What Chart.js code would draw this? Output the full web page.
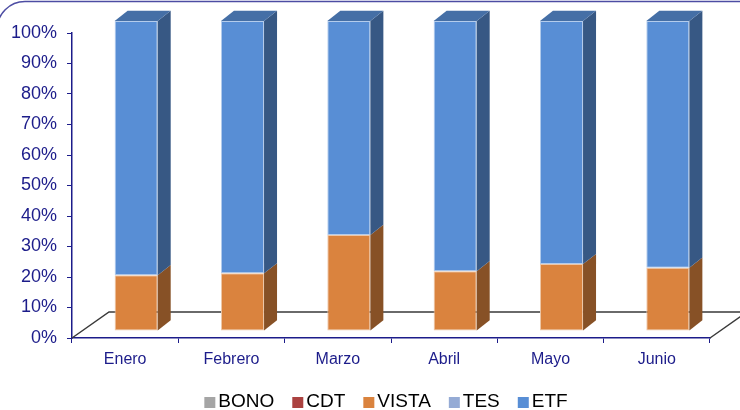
<!DOCTYPE html>
<html>
<head>
<meta charset="utf-8">
<script src="https://cdn.jsdelivr.net/npm/chart.js@4/dist/chart.umd.min.js"></script>
<style>
  html, body { margin: 0; padding: 0; background: #fff; }
  #wrap { width: 740px; height: 410px; position: relative; }
</style>
</head>
<body>
<div id="wrap"><canvas id="chart"></canvas></div>
<script>
// Chart data (percent of portfolio per month)
const months = ["Enero", "Febrero", "Marzo", "Abril", "Mayo", "Junio"];
const bono = [0, 0, 0, 0, 0, 0];
const cdt = [0, 0, 0, 0, 0, 0];
const vista = [18, 18.6, 31, 19.3, 21.6, 20.4];
const tes = [0, 0, 0, 0, 0, 0];
const etf = [82, 81.4, 69, 80.7, 78.4, 79.6];

const colors = {
  bono: "#a5a5a5",
  cdt: "#ab4240",
  vista: "#da833e",
  tes: "#95abd5",
  etf: "#588ed5",
};
const navy = "#1c1c8a";

// darken / lighten a hex colour
function shade(hex, f) {
  const n = parseInt(hex.slice(1), 16);
  let r = (n >> 16) & 255, g = (n >> 8) & 255, b = n & 255;
  if (f < 0) {
    r = Math.round(r * (1 + f)); g = Math.round(g * (1 + f)); b = Math.round(b * (1 + f));
  } else {
    r = Math.round(r + (255 - r) * f); g = Math.round(g + (255 - g) * f); b = Math.round(b + (255 - b) * f);
  }
  return `rgb(${r},${g},${b})`;
}

// 3D look: bars pushed back into the floor, with side and top faces
const DEPTH_X = 37, DEPTH_Y = 26;   // floor depth
const BAR_DX = 13, BAR_DY = 10;     // bar side depth
const BAR_SHIFT_X = 11, BAR_LIFT = 7;

const bar3d = {
  id: "bar3d",
  beforeDraw(chart) {
    // rounded frame, only the top edge shows
    const c = chart.ctx;
    c.save();
    c.strokeStyle = "#4d4da3";
    c.lineWidth = 1.5;
    c.beginPath();
    c.roundRect(-3, 1.5, 800, 480, 28);
    c.stroke();
    c.restore();
  },
  beforeDatasetsDraw(chart) {
    const c = chart.ctx;
    const a = chart.chartArea;
    const yScale = chart.scales.y;
    const y0 = yScale.getPixelForValue(0);
    const y100 = yScale.getPixelForValue(100);

    // floor outline
    c.save();
    c.strokeStyle = "#3a3a3a";
    c.lineWidth = 1.5;
    c.beginPath();
    c.moveTo(a.left, y0);
    c.lineTo(a.left + DEPTH_X, y0 - DEPTH_Y);
    c.lineTo(a.right + DEPTH_X, y0 - DEPTH_Y);
    c.moveTo(a.right, y0);
    c.lineTo(a.right + DEPTH_X, y0 - DEPTH_Y);
    c.stroke();
    c.restore();

    // move front faces back into the box
    const h = y0 - y100;
    const k = (h + 5) / h;
    c.save();
    c.translate(BAR_SHIFT_X, y0 - BAR_LIFT);
    c.scale(1, k);
    c.translate(0, -y0);
  },
  afterDatasetsDraw(chart) {
    const c = chart.ctx;
    const n = chart.data.labels.length;
    for (let i = 0; i < n; i++) {
      let topEl = null, topCol = null;
      chart.data.datasets.forEach((ds, d) => {
        const el = chart.getDatasetMeta(d).data[i];
        if (!el || !ds.data[i]) return;
        const p = el.getProps(["x", "y", "base", "width"], true);
        const right = p.x + p.width / 2;
        const top = Math.min(p.y, p.base), bottom = Math.max(p.y, p.base);
        c.fillStyle = shade(ds.backgroundColor, -0.38);
        c.beginPath();
        c.moveTo(right, top);
        c.lineTo(right + BAR_DX, top - BAR_DY);
        c.lineTo(right + BAR_DX, bottom - BAR_DY);
        c.lineTo(right, bottom);
        c.closePath();
        c.fill();
        topEl = p; topCol = ds.backgroundColor;
      });
      if (topEl) {
        const left = topEl.x - topEl.width / 2, right = topEl.x + topEl.width / 2;
        const top = Math.min(topEl.y, topEl.base);
        c.fillStyle = shade(topCol, -0.22);
        c.beginPath();
        c.moveTo(left, top);
        c.lineTo(left + BAR_DX, top - BAR_DY);
        c.lineTo(right + BAR_DX, top - BAR_DY);
        c.lineTo(right, top);
        c.closePath();
        c.fill();
      }
    }
    c.restore();
  },
  afterDraw(chart) {
    // legend: small square + label, centred under the plot
    const c = chart.ctx;
    const items = chart.data.datasets.map((ds) => ({ text: ds.label, color: ds.backgroundColor }));
    c.save();
    c.font = "19px 'Liberation Sans', Arial, sans-serif";
    c.textBaseline = "middle";
    const box = 11, gap = 3, spacing = 18;
    let total = 0;
    items.forEach((it, idx) => {
      it.w = c.measureText(it.text).width;
      total += box + gap + it.w + (idx < items.length - 1 ? spacing : 0);
    });
    let x = 386 - total / 2;
    const y = 402;
    items.forEach((it) => {
      c.fillStyle = it.color;
      c.fillRect(x, y - 5, box, box);
      c.fillStyle = "#000";
      c.fillText(it.text, x + box + gap, y);
      x += box + gap + it.w + spacing;
    });
    c.restore();
  },
};

function barDataset(label, data, color) {
  return {
    label: label,
    data: data,
    backgroundColor: color,
    borderColor: shade(color, 0.55),
    borderWidth: (ctx) => (ctx.raw ? 1 : 0),
    borderSkipped: false,
    clip: false,
  };
}

new Chart(document.getElementById("chart"), {
  type: "bar",
  data: {
    labels: months,
    datasets: [
      barDataset("BONO", bono, colors.bono),
      barDataset("CDT", cdt, colors.cdt),
      barDataset("VISTA", vista, colors.vista),
      barDataset("TES", tes, colors.tes),
      barDataset("ETF", etf, colors.etf),
    ],
  },
  options: {
    responsive: true,
    maintainAspectRatio: false,
    animation: false,
    events: [],
    layout: { padding: { top: 33, right: 30, left: 0, bottom: 0 } },
    datasets: { bar: { categoryPercentage: 1, barPercentage: 0.405 } },
    scales: {
      x: {
        stacked: true,
        afterFit: (scale) => { scale.height = 72; },
        border: { display: true, color: navy, width: 1.5 },
        grid: {
          offset: true,
          drawOnChartArea: false,
          drawTicks: true,
          tickLength: 5,
          color: navy,
        },
        ticks: {
          color: navy,
          padding: 7,
          font: { family: "'Liberation Sans', Arial, sans-serif", size: 16 },
        },
      },
      y: {
        stacked: true,
        min: 0,
        max: 100,
        afterFit: (scale) => { scale.width = 72; },
        border: { display: true, color: navy, width: 1.5 },
        grid: {
          drawOnChartArea: false,
          drawTicks: true,
          tickLength: 5,
          color: navy,
        },
        ticks: {
          stepSize: 10,
          color: navy,
          padding: 10,
          font: { family: "'Liberation Sans', Arial, sans-serif", size: 18 },
          callback: (v) => v + "%",
        },
      },
    },
    plugins: {
      legend: { display: false },
      tooltip: { enabled: false },
    },
  },
  plugins: [bar3d],
});
</script>
</body>
</html>
